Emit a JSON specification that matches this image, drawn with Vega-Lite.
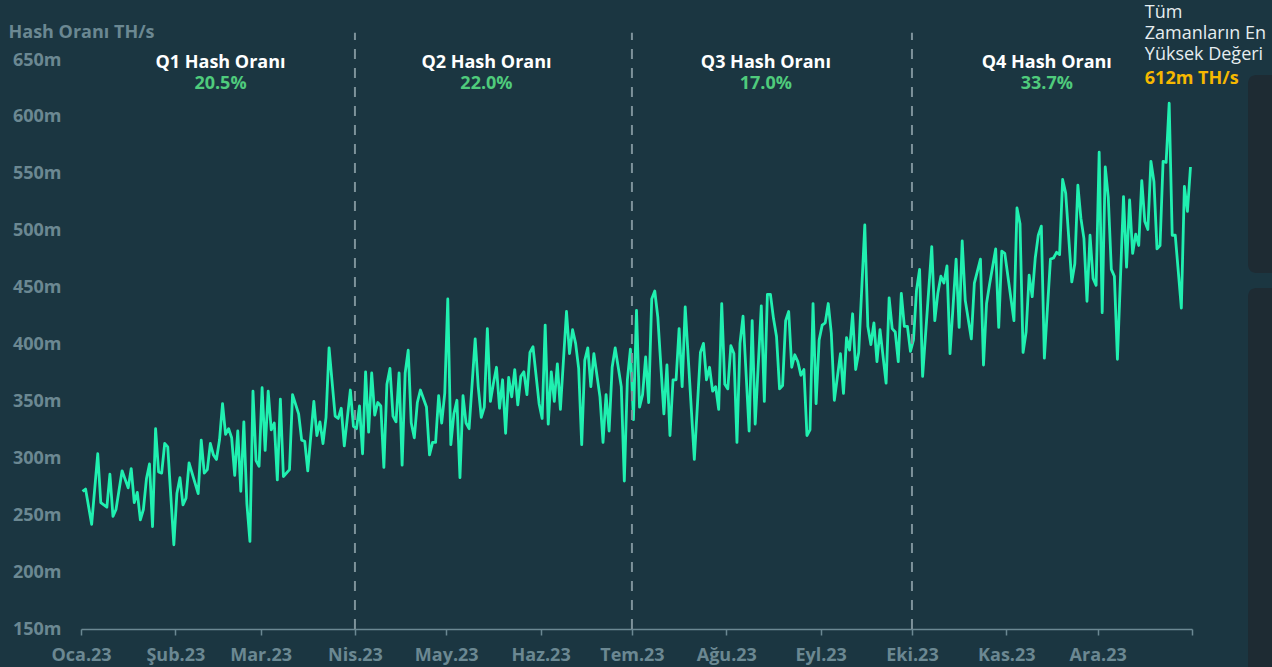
{
"$schema": "https://vega.github.io/schema/vega-lite/v6.json",
"width": 1111, "height": 569,
"autosize": "none",
"padding": {"left": 81, "top": 60, "right": 80, "bottom": 38},
"background": "#1b3641",
"config": {"view": {"stroke": null}, "font": "Open Sans"},
"datasets": {
"hash": [
{"t":"2023-01-01T12:00Z","v":271},{"t":"2023-01-02T12:00Z","v":273},{"t":"2023-01-04T12:00Z","v":242},{"t":"2023-01-06T12:00Z","v":304},{"t":"2023-01-07T12:00Z","v":261},{"t":"2023-01-08T12:00Z","v":259},{"t":"2023-01-09T12:00Z","v":257},{"t":"2023-01-10T12:00Z","v":286},{"t":"2023-01-11T12:00Z","v":249},{"t":"2023-01-12T12:00Z","v":255},{"t":"2023-01-14T12:00Z","v":289},{"t":"2023-01-16T12:00Z","v":274},{"t":"2023-01-17T12:00Z","v":291},{"t":"2023-01-18T12:00Z","v":261},{"t":"2023-01-19T12:00Z","v":270},{"t":"2023-01-20T12:00Z","v":246},{"t":"2023-01-21T12:00Z","v":255},{"t":"2023-01-22T12:00Z","v":282},{"t":"2023-01-23T12:00Z","v":295},{"t":"2023-01-24T12:00Z","v":240},{"t":"2023-01-25T12:00Z","v":326},{"t":"2023-01-26T12:00Z","v":288},{"t":"2023-01-27T12:00Z","v":287},{"t":"2023-01-28T12:00Z","v":313},{"t":"2023-01-29T12:00Z","v":310},{"t":"2023-01-31T12:00Z","v":224},
{"t":"2023-02-01T12:00Z","v":269},{"t":"2023-02-02T12:00Z","v":283},{"t":"2023-02-03T12:00Z","v":259},{"t":"2023-02-04T12:00Z","v":265},{"t":"2023-02-05T12:00Z","v":296},{"t":"2023-02-08T12:00Z","v":269},{"t":"2023-02-09T12:00Z","v":316},{"t":"2023-02-10T12:00Z","v":287},{"t":"2023-02-11T12:00Z","v":290},{"t":"2023-02-12T12:00Z","v":313},{"t":"2023-02-13T12:00Z","v":303},{"t":"2023-02-14T12:00Z","v":299},{"t":"2023-02-15T12:00Z","v":316},{"t":"2023-02-16T12:00Z","v":348},{"t":"2023-02-17T12:00Z","v":321},{"t":"2023-02-18T12:00Z","v":326},{"t":"2023-02-19T12:00Z","v":318},{"t":"2023-02-20T12:00Z","v":285},{"t":"2023-02-21T12:00Z","v":324},{"t":"2023-02-22T12:00Z","v":271},{"t":"2023-02-23T12:00Z","v":332},{"t":"2023-02-24T12:00Z","v":260},{"t":"2023-02-25T12:00Z","v":227},{"t":"2023-02-26T12:00Z","v":359},{"t":"2023-02-27T12:00Z","v":298},{"t":"2023-02-28T12:00Z","v":293},
{"t":"2023-03-01T12:00Z","v":362},{"t":"2023-03-02T12:00Z","v":307},{"t":"2023-03-03T12:00Z","v":359},{"t":"2023-03-04T12:00Z","v":325},{"t":"2023-03-05T12:00Z","v":331},{"t":"2023-03-06T12:00Z","v":281},{"t":"2023-03-07T12:00Z","v":352},{"t":"2023-03-08T12:00Z","v":284},{"t":"2023-03-10T12:00Z","v":290},{"t":"2023-03-11T12:00Z","v":356},{"t":"2023-03-13T12:00Z","v":339},{"t":"2023-03-14T12:00Z","v":316},{"t":"2023-03-15T12:00Z","v":315},{"t":"2023-03-16T12:00Z","v":289},{"t":"2023-03-18T12:00Z","v":350},{"t":"2023-03-19T12:00Z","v":320},{"t":"2023-03-20T12:00Z","v":332},{"t":"2023-03-21T12:00Z","v":313},{"t":"2023-03-22T12:00Z","v":336},{"t":"2023-03-23T12:00Z","v":397},{"t":"2023-03-25T12:00Z","v":337},{"t":"2023-03-26T12:00Z","v":335},{"t":"2023-03-27T12:00Z","v":344},{"t":"2023-03-28T12:00Z","v":311},{"t":"2023-03-30T12:00Z","v":360},{"t":"2023-03-31T12:00Z","v":328},
{"t":"2023-04-01T12:00Z","v":326},{"t":"2023-04-02T12:00Z","v":346},{"t":"2023-04-03T12:00Z","v":304},{"t":"2023-04-04T12:00Z","v":376},{"t":"2023-04-05T12:00Z","v":323},{"t":"2023-04-06T12:00Z","v":375},{"t":"2023-04-07T12:00Z","v":338},{"t":"2023-04-08T12:00Z","v":349},{"t":"2023-04-09T12:00Z","v":346},{"t":"2023-04-10T12:00Z","v":292},{"t":"2023-04-11T12:00Z","v":365},{"t":"2023-04-12T12:00Z","v":379},{"t":"2023-04-13T12:00Z","v":337},{"t":"2023-04-14T12:00Z","v":332},{"t":"2023-04-15T12:00Z","v":375},{"t":"2023-04-16T12:00Z","v":294},{"t":"2023-04-17T12:00Z","v":375},{"t":"2023-04-18T12:00Z","v":395},{"t":"2023-04-19T12:00Z","v":331},{"t":"2023-04-20T12:00Z","v":318},{"t":"2023-04-21T12:00Z","v":349},{"t":"2023-04-22T12:00Z","v":360},{"t":"2023-04-24T12:00Z","v":345},{"t":"2023-04-25T12:00Z","v":303},{"t":"2023-04-26T12:00Z","v":314},{"t":"2023-04-27T12:00Z","v":314},{"t":"2023-04-28T12:00Z","v":355},{"t":"2023-04-29T12:00Z","v":331},{"t":"2023-04-30T12:00Z","v":357},
{"t":"2023-05-01T12:00Z","v":440},{"t":"2023-05-02T12:00Z","v":312},{"t":"2023-05-03T12:00Z","v":339},{"t":"2023-05-04T12:00Z","v":351},{"t":"2023-05-05T12:00Z","v":283},{"t":"2023-05-06T12:00Z","v":355},{"t":"2023-05-07T12:00Z","v":331},{"t":"2023-05-08T12:00Z","v":326},{"t":"2023-05-10T12:00Z","v":405},{"t":"2023-05-11T12:00Z","v":363},{"t":"2023-05-12T12:00Z","v":336},{"t":"2023-05-13T12:00Z","v":345},{"t":"2023-05-14T12:00Z","v":414},{"t":"2023-05-15T12:00Z","v":350},{"t":"2023-05-16T12:00Z","v":366},{"t":"2023-05-17T12:00Z","v":380},{"t":"2023-05-18T12:00Z","v":344},{"t":"2023-05-19T12:00Z","v":369},{"t":"2023-05-20T12:00Z","v":322},{"t":"2023-05-21T12:00Z","v":371},{"t":"2023-05-22T12:00Z","v":354},{"t":"2023-05-23T12:00Z","v":378},{"t":"2023-05-24T12:00Z","v":347},{"t":"2023-05-25T12:00Z","v":372},{"t":"2023-05-26T12:00Z","v":376},{"t":"2023-05-27T12:00Z","v":356},{"t":"2023-05-28T12:00Z","v":393},{"t":"2023-05-29T12:00Z","v":398},{"t":"2023-05-31T12:00Z","v":348},
{"t":"2023-06-01T12:00Z","v":335},{"t":"2023-06-02T12:00Z","v":417},{"t":"2023-06-03T12:00Z","v":330},{"t":"2023-06-04T12:00Z","v":376},{"t":"2023-06-05T12:00Z","v":350},{"t":"2023-06-06T12:00Z","v":383},{"t":"2023-06-07T12:00Z","v":343},{"t":"2023-06-09T12:00Z","v":429},{"t":"2023-06-10T12:00Z","v":392},{"t":"2023-06-11T12:00Z","v":413},{"t":"2023-06-12T12:00Z","v":401},{"t":"2023-06-13T12:00Z","v":379},{"t":"2023-06-14T12:00Z","v":312},{"t":"2023-06-15T12:00Z","v":386},{"t":"2023-06-16T12:00Z","v":397},{"t":"2023-06-17T12:00Z","v":363},{"t":"2023-06-18T12:00Z","v":392},{"t":"2023-06-20T12:00Z","v":354},{"t":"2023-06-21T12:00Z","v":314},{"t":"2023-06-22T12:00Z","v":356},{"t":"2023-06-23T12:00Z","v":324},{"t":"2023-06-24T12:00Z","v":380},{"t":"2023-06-25T12:00Z","v":397},{"t":"2023-06-27T12:00Z","v":363},{"t":"2023-06-28T12:00Z","v":280},{"t":"2023-06-29T12:00Z","v":369},{"t":"2023-06-30T12:00Z","v":396},
{"t":"2023-07-01T12:00Z","v":334},{"t":"2023-07-02T12:00Z","v":430},{"t":"2023-07-03T12:00Z","v":345},{"t":"2023-07-04T12:00Z","v":356},{"t":"2023-07-05T12:00Z","v":389},{"t":"2023-07-06T12:00Z","v":349},{"t":"2023-07-07T12:00Z","v":440},{"t":"2023-07-08T12:00Z","v":447},{"t":"2023-07-09T12:00Z","v":424},{"t":"2023-07-11T12:00Z","v":339},{"t":"2023-07-12T12:00Z","v":382},{"t":"2023-07-13T12:00Z","v":320},{"t":"2023-07-14T12:00Z","v":369},{"t":"2023-07-15T12:00Z","v":369},{"t":"2023-07-16T12:00Z","v":414},{"t":"2023-07-17T12:00Z","v":363},{"t":"2023-07-18T12:00Z","v":433},{"t":"2023-07-21T12:00Z","v":299},{"t":"2023-07-23T12:00Z","v":393},{"t":"2023-07-24T12:00Z","v":401},{"t":"2023-07-25T12:00Z","v":369},{"t":"2023-07-26T12:00Z","v":380},{"t":"2023-07-27T12:00Z","v":359},{"t":"2023-07-28T12:00Z","v":363},{"t":"2023-07-29T12:00Z","v":343},{"t":"2023-07-30T12:00Z","v":436},{"t":"2023-07-31T12:00Z","v":365},
{"t":"2023-08-01T12:00Z","v":361},{"t":"2023-08-02T12:00Z","v":399},{"t":"2023-08-03T12:00Z","v":392},{"t":"2023-08-04T12:00Z","v":314},{"t":"2023-08-05T12:00Z","v":401},{"t":"2023-08-06T12:00Z","v":425},{"t":"2023-08-08T12:00Z","v":324},{"t":"2023-08-09T12:00Z","v":421},{"t":"2023-08-10T12:00Z","v":330},{"t":"2023-08-12T12:00Z","v":434},{"t":"2023-08-13T12:00Z","v":350},{"t":"2023-08-14T12:00Z","v":444},{"t":"2023-08-15T12:00Z","v":444},{"t":"2023-08-16T12:00Z","v":423},{"t":"2023-08-17T12:00Z","v":407},{"t":"2023-08-18T12:00Z","v":361},{"t":"2023-08-19T12:00Z","v":364},{"t":"2023-08-20T12:00Z","v":421},{"t":"2023-08-21T12:00Z","v":429},{"t":"2023-08-22T12:00Z","v":380},{"t":"2023-08-23T12:00Z","v":391},{"t":"2023-08-24T12:00Z","v":385},{"t":"2023-08-25T12:00Z","v":373},{"t":"2023-08-26T12:00Z","v":378},{"t":"2023-08-27T12:00Z","v":320},{"t":"2023-08-28T12:00Z","v":325},{"t":"2023-08-29T12:00Z","v":436},{"t":"2023-08-30T12:00Z","v":348},{"t":"2023-08-31T12:00Z","v":404},
{"t":"2023-09-01T12:00Z","v":417},{"t":"2023-09-02T12:00Z","v":419},{"t":"2023-09-03T12:00Z","v":436},{"t":"2023-09-04T12:00Z","v":410},{"t":"2023-09-05T12:00Z","v":351},{"t":"2023-09-07T12:00Z","v":392},{"t":"2023-09-08T12:00Z","v":357},{"t":"2023-09-09T12:00Z","v":406},{"t":"2023-09-10T12:00Z","v":395},{"t":"2023-09-11T12:00Z","v":427},{"t":"2023-09-12T12:00Z","v":378},{"t":"2023-09-13T12:00Z","v":393},{"t":"2023-09-15T12:00Z","v":505},{"t":"2023-09-16T12:00Z","v":416},{"t":"2023-09-17T12:00Z","v":400},{"t":"2023-09-18T12:00Z","v":419},{"t":"2023-09-19T12:00Z","v":385},{"t":"2023-09-20T12:00Z","v":413},{"t":"2023-09-22T12:00Z","v":366},{"t":"2023-09-23T12:00Z","v":441},{"t":"2023-09-24T12:00Z","v":414},{"t":"2023-09-25T12:00Z","v":411},{"t":"2023-09-26T12:00Z","v":385},{"t":"2023-09-27T12:00Z","v":445},{"t":"2023-09-28T12:00Z","v":416},{"t":"2023-09-29T12:00Z","v":416},{"t":"2023-09-30T12:00Z","v":394},
{"t":"2023-10-01T12:00Z","v":404},{"t":"2023-10-02T12:00Z","v":448},{"t":"2023-10-03T12:00Z","v":466},{"t":"2023-10-04T12:00Z","v":372},{"t":"2023-10-07T12:00Z","v":486},{"t":"2023-10-08T12:00Z","v":421},{"t":"2023-10-09T12:00Z","v":445},{"t":"2023-10-10T12:00Z","v":460},{"t":"2023-10-11T12:00Z","v":454},{"t":"2023-10-12T12:00Z","v":469},{"t":"2023-10-13T12:00Z","v":392},{"t":"2023-10-15T12:00Z","v":475},{"t":"2023-10-16T12:00Z","v":415},{"t":"2023-10-17T12:00Z","v":491},{"t":"2023-10-18T12:00Z","v":439},{"t":"2023-10-20T12:00Z","v":405},{"t":"2023-10-21T12:00Z","v":454},{"t":"2023-10-23T12:00Z","v":475},{"t":"2023-10-24T12:00Z","v":382},{"t":"2023-10-25T12:00Z","v":436},{"t":"2023-10-26T12:00Z","v":453},{"t":"2023-10-28T12:00Z","v":484},{"t":"2023-10-29T12:00Z","v":415},{"t":"2023-10-30T12:00Z","v":482},{"t":"2023-10-31T12:00Z","v":480},
{"t":"2023-11-03T12:00Z","v":421},{"t":"2023-11-04T12:00Z","v":520},{"t":"2023-11-05T12:00Z","v":506},{"t":"2023-11-06T12:00Z","v":393},{"t":"2023-11-07T12:00Z","v":411},{"t":"2023-11-08T12:00Z","v":461},{"t":"2023-11-09T12:00Z","v":442},{"t":"2023-11-10T12:00Z","v":476},{"t":"2023-11-11T12:00Z","v":496},{"t":"2023-11-12T12:00Z","v":504},{"t":"2023-11-13T12:00Z","v":388},{"t":"2023-11-15T12:00Z","v":475},{"t":"2023-11-16T12:00Z","v":476},{"t":"2023-11-17T12:00Z","v":481},{"t":"2023-11-18T12:00Z","v":479},{"t":"2023-11-19T12:00Z","v":545},{"t":"2023-11-20T12:00Z","v":533},{"t":"2023-11-22T12:00Z","v":455},{"t":"2023-11-23T12:00Z","v":471},{"t":"2023-11-24T12:00Z","v":540},{"t":"2023-11-25T12:00Z","v":511},{"t":"2023-11-26T12:00Z","v":493},{"t":"2023-11-27T12:00Z","v":438},{"t":"2023-11-28T12:00Z","v":496},{"t":"2023-11-29T12:00Z","v":458},{"t":"2023-11-30T12:00Z","v":452},
{"t":"2023-12-01T12:00Z","v":569},{"t":"2023-12-02T12:00Z","v":428},{"t":"2023-12-03T12:00Z","v":556},{"t":"2023-12-04T12:00Z","v":529},{"t":"2023-12-05T12:00Z","v":466},{"t":"2023-12-06T12:00Z","v":460},{"t":"2023-12-07T12:00Z","v":387},{"t":"2023-12-09T12:00Z","v":530},{"t":"2023-12-10T12:00Z","v":468},{"t":"2023-12-11T12:00Z","v":527},{"t":"2023-12-12T12:00Z","v":480},{"t":"2023-12-13T12:00Z","v":497},{"t":"2023-12-14T12:00Z","v":487},{"t":"2023-12-15T12:00Z","v":544},{"t":"2023-12-16T12:00Z","v":508},{"t":"2023-12-17T12:00Z","v":501},{"t":"2023-12-18T12:00Z","v":561},{"t":"2023-12-19T12:00Z","v":543},{"t":"2023-12-20T12:00Z","v":484},{"t":"2023-12-21T12:00Z","v":487},{"t":"2023-12-22T12:00Z","v":561},{"t":"2023-12-23T12:00Z","v":560},{"t":"2023-12-24T12:00Z","v":612},{"t":"2023-12-25T12:00Z","v":496},{"t":"2023-12-26T12:00Z","v":496},{"t":"2023-12-28T12:00Z","v":432},{"t":"2023-12-29T12:00Z","v":539},{"t":"2023-12-30T12:00Z","v":517},{"t":"2023-12-31T12:00Z","v":556}
],
"quarters": [
{"t":"2023-02-15T20:00Z","q":"Q1 Hash Oranı","p":"20.5%"},
{"t":"2023-05-14T05:00Z","q":"Q2 Hash Oranı","p":"22.0%"},
{"t":"2023-08-14T00:00Z","q":"Q3 Hash Oranı","p":"17.0%"},
{"t":"2023-11-14T07:00Z","q":"Q4 Hash Oranı","p":"33.7%"}
],
"rules": [{"t":"2023-04-01T00:00Z"},{"t":"2023-07-01T00:00Z"},{"t":"2023-10-01T00:00Z"}],
"note": [
{"t":"2023-12-16T12:00Z","y":686.6,"txt":"Tüm"},
{"t":"2023-12-16T12:00Z","y":668.2,"txt":"Zamanların En"},
{"t":"2023-12-16T12:00Z","y":650,"txt":"Yüksek Değeri"}
],
"ath": [{"t":"2023-12-16T12:00Z","y":629,"txt":"612m TH/s"}],
"boxes": [
{"x1":"2024-01-19T10:00Z","x2":"2024-06-01T00:00Z","y1":636.8,"y2":462.8},
{"x1":"2024-01-19T10:00Z","x2":"2024-06-01T00:00Z","y1":449.6,"y2":90}
]
},
"layer": [
{"data":{"name":"hash"},"mark":{"type":"line","color":"#20f0b0","strokeWidth":2.8,"strokeJoin":"round"},
 "encoding":{
 "x":{"field":"t","type":"temporal","scale":{"type":"utc","domain":[1672531200000,1704067200000]},
  "axis":{"title":null,"grid":false,"values":[1672531200000,1675209600000,1677628800000,1680307200000,1682899200000,1685577600000,1688169600000,1690848000000,1693526400000,1696118400000,1698796800000,1701388800000,1704067200000],
  "labelExpr":"datum.value >= 1704067200000 ? '' : ['Oca','Şub','Mar','Nis','May','Haz','Tem','Ağu','Eyl','Eki','Kas','Ara'][utcmonth(datum.value)] + '.23'",
  "domainColor":"#6b8892","domainWidth":1.5,"tickColor":"#6b8892","tickWidth":1.5,"tickSize":6,"labelPadding":11,
  "labelColor":"#6b8892","labelFont":"Open Sans","labelFontSize":18,"labelFontWeight":"bold","labelOverlap":false,"labelFlush":false}},
 "y":{"field":"v","type":"quantitative","scale":{"domain":[150,650],"nice":false,"zero":false},
  "axis":{"values":[150,200,250,300,350,400,450,500,550,600,650],"labelExpr":"datum.value + 'm'","grid":false,"ticks":false,"domain":false,"labelPadding":20,
  "labelColor":"#6b8892","labelFont":"Open Sans","labelFontSize":18,"labelFontWeight":"bold",
  "title":"Hash Oranı TH/s","titleAngle":0,"titleAlign":"left","titleBaseline":"alphabetic","titleX":-73,"titleY":-23,
  "titleColor":"#6b8892","titleFont":"Open Sans","titleFontSize":18,"titleFontWeight":"bold"}}}},
{"data":{"name":"boxes"},"mark":{"type":"rect","cornerRadius":8,"color":"#1e2b33"},
 "encoding":{"x":{"field":"x1","type":"temporal","scale":{"type":"utc","domain":[1672531200000,1704067200000]}},"x2":{"field":"x2"},
 "y":{"field":"y1","type":"quantitative","scale":{"domain":[150,650],"nice":false,"zero":false}},"y2":{"field":"y2"}}},
{"data":{"name":"rules"},"mark":{"type":"rule","color":"#7d929a","strokeWidth":2,"strokeDash":[10,9]},
 "encoding":{"x":{"field":"t","type":"temporal","scale":{"type":"utc","domain":[1672531200000,1704067200000]}},
 "y":{"datum":150,"type":"quantitative","scale":{"domain":[150,650],"nice":false,"zero":false}},"y2":{"datum":674}}},
{"data":{"name":"quarters"},"mark":{"type":"text","color":"#ffffff","font":"Open Sans","fontSize":18,"fontWeight":"bold","align":"center","baseline":"alphabetic"},
 "encoding":{"x":{"field":"t","type":"temporal","scale":{"type":"utc","domain":[1672531200000,1704067200000]}},
 "y":{"datum":642.7,"type":"quantitative","scale":{"domain":[150,650],"nice":false,"zero":false}},"text":{"field":"q"}}},
{"data":{"name":"quarters"},"mark":{"type":"text","color":"#4fcb7c","font":"Open Sans","fontSize":18,"fontWeight":"bold","align":"center","baseline":"alphabetic"},
 "encoding":{"x":{"field":"t","type":"temporal","scale":{"type":"utc","domain":[1672531200000,1704067200000]}},
 "y":{"datum":624.3,"type":"quantitative","scale":{"domain":[150,650],"nice":false,"zero":false}},"text":{"field":"p"}}},
{"data":{"name":"note"},"mark":{"type":"text","color":"#e6edf0","font":"Open Sans","fontSize":18,"align":"left","baseline":"alphabetic"},
 "encoding":{"x":{"field":"t","type":"temporal","scale":{"type":"utc","domain":[1672531200000,1704067200000]}},
 "y":{"field":"y","type":"quantitative","scale":{"domain":[150,650],"nice":false,"zero":false}},"text":{"field":"txt"}}},
{"data":{"name":"ath"},"mark":{"type":"text","color":"#f5b800","font":"Open Sans","fontSize":18,"fontWeight":"bold","align":"left","baseline":"alphabetic"},
 "encoding":{"x":{"field":"t","type":"temporal","scale":{"type":"utc","domain":[1672531200000,1704067200000]}},
 "y":{"field":"y","type":"quantitative","scale":{"domain":[150,650],"nice":false,"zero":false}},"text":{"field":"txt"}}}
]
}
